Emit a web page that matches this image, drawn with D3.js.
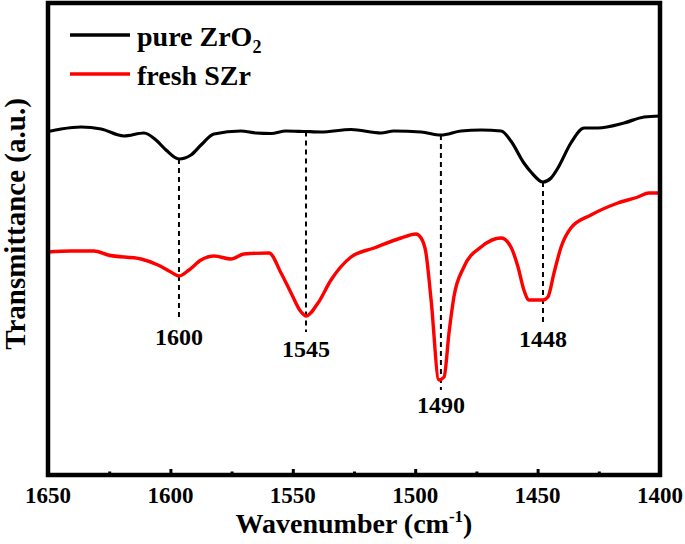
<!DOCTYPE html>
<html>
<head>
<meta charset="utf-8">
<script src="https://cdn.jsdelivr.net/npm/d3@7"></script>
<style>
  html, body { margin: 0; padding: 0; background: #fff; }
  svg { display: block; }
</style>
</head>
<body>
<svg id="chart" width="685" height="544"></svg>
<script>
// ---- data (wavenumber in cm^-1, transmittance in arbitrary units) ----
const pureWavenumber = [1650, 1644.7, 1636.5, 1628.3, 1619.0, 1610.8, 1605.9, 1601.8, 1596.5, 1591.6, 1587.5, 1582.2, 1571.2, 1565.0, 1558.9, 1552.8, 1545.4, 1538.5, 1526.2, 1514.0, 1508.7, 1497.6, 1489.5, 1481.3, 1473.1, 1464.9, 1460.9, 1455.6, 1452.7, 1447.8, 1444.5, 1441.7, 1436.4, 1431.0, 1425.3, 1414.7, 1406.5, 1400];
const pureT = [34.35, 34.6, 34.8, 34.6, 33.9, 34.2, 33.5, 32.5, 31.6, 32.0, 33.0, 34.1, 34.4, 34.2, 34.15, 34.4, 34.35, 34.3, 34.55, 34.2, 34.4, 34.3, 34.0, 34.4, 34.5, 34.4, 33.4, 31.2, 30.3, 29.3, 29.7, 30.7, 33.2, 34.7, 34.7, 35.2, 35.8, 35.9];

const sulfWavenumber = [1650, 1640.6, 1631.2, 1625.5, 1612.0, 1605.1, 1599.8, 1596.5, 1592.4, 1587.5, 1582.2, 1575.2, 1570.0, 1559.7, 1554.8, 1550.7, 1546.6, 1544.6, 1539.7, 1534.4, 1526.2, 1516.8, 1505.8, 1499.7, 1497.6, 1495.6, 1493.5, 1490.3, 1488.2, 1486.2, 1484.2, 1480.1, 1473.1, 1464.9, 1460.9, 1458.0, 1455.6, 1453.5, 1447.8, 1445.8, 1443.3, 1440.4, 1436.4, 1428.2, 1417.2, 1409.0, 1404.5, 1400];
const sulfT = [22.3, 22.4, 22.4, 22.0, 21.6, 21.0, 20.3, 19.9, 20.5, 21.5, 21.9, 21.6, 22.1, 22.2, 20.2, 18.2, 16.3, 15.9, 17.2, 19.5, 21.8, 22.7, 23.7, 24.1, 23.7, 22.2, 17.5, 9.5, 9.8, 14.2, 17.8, 20.8, 22.8, 23.7, 22.8, 20.8, 18.5, 17.5, 17.5, 17.8, 20.2, 22.8, 24.7, 26.0, 27.2, 27.8, 28.2, 28.2];

const seriesNames = ["pure ZrO", "fresh SZr"];
const seriesColors = ["#000000", "#ff0000"];

const peakWavenumber = [1596.5, 1544.6, 1489.5, 1447.8];
const peakLabels = ["1600", "1545", "1490", "1448"];
const peakTop = [31.6, 34.35, 34.0, 29.3];
const peakBottom = [15.8, 14.3, 8.5, 15.2];
const peakLabelPos = [13.0, 11.8, 6.2, 12.8];

const majorTicks = [1650, 1600, 1550, 1500, 1450, 1400];
const minorTicks = [1625, 1575, 1525, 1475, 1425];

const FONT = "'Times New Roman', 'Liberation Serif', Tinos, 'DejaVu Serif', serif";

// ---- drawing ----
const svg = d3.select("#chart");
const x = d3.scaleLinear().domain([1650, 1400]).range([48, 660]);
const y = d3.scaleLinear().domain([0, 47.2]).range([475, 3]);

const line = d3.line()
  .x(d => x(d[0]))
  .y(d => y(d[1]))
  .curve(d3.curveMonotoneX);

// dashed peak markers
const peaks = peakWavenumber.map((w, i) => ({w, label: peakLabels[i], top: peakTop[i], bottom: peakBottom[i], lab: peakLabelPos[i]}));
svg.append("g").selectAll("line").data(peaks).join("line")
  .attr("x1", d => x(d.w)).attr("x2", d => x(d.w))
  .attr("y1", d => y(d.top)).attr("y2", d => y(d.bottom))
  .attr("stroke", "#000").attr("stroke-width", 2)
  .attr("stroke-dasharray", "5,4");

// curves
const pureData = pureWavenumber.map((w, i) => [w, pureT[i]]);
const sulfData = sulfWavenumber.map((w, i) => [w, sulfT[i]]);
svg.append("path").datum(pureData).attr("d", line)
  .attr("fill", "none").attr("stroke", seriesColors[0]).attr("stroke-width", 3.2)
  .attr("stroke-linejoin", "round");
svg.append("path").datum(sulfData).attr("d", line)
  .attr("fill", "none").attr("stroke", seriesColors[1]).attr("stroke-width", 3.4)
  .attr("stroke-linejoin", "round");

function styleText(sel, size) {
  return sel.attr("font-family", FONT).attr("font-weight", "bold")
    .attr("fill", "#000").attr("font-size", size);
}

// peak labels
styleText(svg.append("g").selectAll("text").data(peaks).join("text"), 24)
  .attr("x", d => x(d.w)).attr("y", d => y(d.lab))
  .attr("text-anchor", "middle")
  .text(d => d.label);

// axis ticks (inward)
const axisG = svg.append("g").attr("transform", `translate(0,${y(0)})`);
axisG.call(d3.axisBottom(x).tickValues(majorTicks).tickSize(-6).tickFormat(""))
  .call(g => g.select(".domain").remove())
  .call(g => g.selectAll("line").attr("stroke-width", 3));
const minorG = svg.append("g").attr("transform", `translate(0,${y(0)})`);
minorG.call(d3.axisBottom(x).tickValues(minorTicks).tickSize(-3.5).tickFormat(""))
  .call(g => g.select(".domain").remove())
  .call(g => g.selectAll("line").attr("stroke-width", 3));

// tick labels
styleText(svg.append("g").selectAll("text").data(majorTicks).join("text"), 23)
  .attr("x", d => x(d)).attr("y", 503)
  .attr("text-anchor", "middle")
  .text(d => d);

// frame
svg.append("rect")
  .attr("x", x(1650)).attr("y", y(47.2))
  .attr("width", x(1400) - x(1650)).attr("height", y(0) - y(47.2))
  .attr("fill", "none").attr("stroke", "#000").attr("stroke-width", 4.5);

// x title
const xt = styleText(svg.append("text"), 28)
  .attr("x", (x(1650) + x(1400)) / 2).attr("y", 533)
  .attr("text-anchor", "middle");
xt.append("tspan").text("Wavenumber (cm");
xt.append("tspan").attr("font-size", 17).attr("dy", -11).text("-1");
xt.append("tspan").attr("dy", 11).text(")");

// y title
styleText(svg.append("text"), 29)
  .attr("transform", "translate(25,224) rotate(-90)")
  .attr("text-anchor", "middle")
  .text("Transmittance (a.u.)");

// legend
const legendY = [35, 74];
const legendBase = [46, 85];
const leg = svg.append("g");
seriesNames.forEach((name, i) => {
  leg.append("line")
    .attr("x1", 70).attr("x2", 130)
    .attr("y1", legendY[i]).attr("y2", legendY[i])
    .attr("stroke", seriesColors[i]).attr("stroke-width", 3.5);
  const t = styleText(leg.append("text"), 28).attr("x", 137).attr("y", legendBase[i]);
  t.append("tspan").text(name);
  if (i === 0) t.append("tspan").attr("font-size", 18).attr("dy", 7).text("2");
});
</script>
</body>
</html>
